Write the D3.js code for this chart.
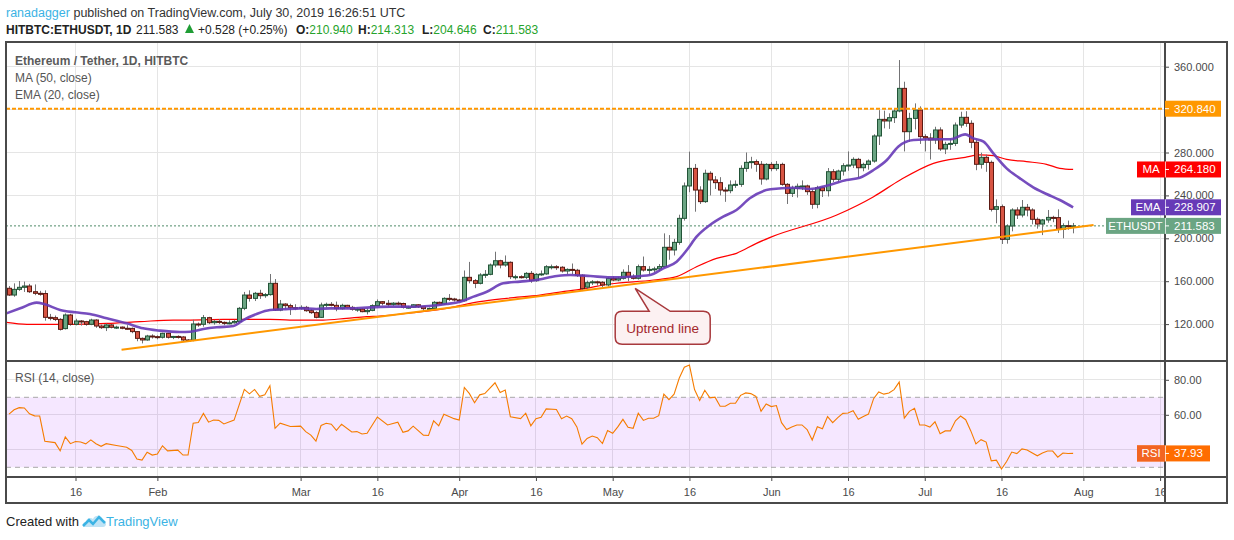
<!DOCTYPE html>
<html>
<head>
<meta charset="utf-8">
<script src="https://cdnjs.cloudflare.com/ajax/libs/d3/7.8.5/d3.min.js"></script>
<style>
  body { margin: 0; background: #fff; }
  svg { display: block; font-family: "Liberation Sans", Arial, sans-serif; }
</style>
</head>
<body>
<svg id="chart" width="1234" height="540"></svg>
<script>
// Daily HITBTC ETH/USDT candles, first candle is 2019-01-03 (one per day)
var startDay = "2019-01-03";

var opens = [
  153.4,147.1,152.4,154.3,155.5,150.2,148.7,148.5,126.3,126.0,
  124.4,115.8,128.5,119.8,122.9,122.3,119.8,123.8,118.2,116.7,
  119.2,117.0,117.2,116.1,116.0,113.0,106.7,105.2,108.9,108.3,
  107.7,111.4,107.7,108.5,108.0,105.2,105.0,120.1,119.8,126.0,
  121.3,122.5,121.6,120.8,121.2,122.5,134.7,147.1,144.0,148.7,
  146.5,147.5,158.0,133.1,138.7,137.2,135.3,134.8,135.6,132.5,
  130.7,126.3,137.8,138.4,137.5,134.4,137.5,135.6,133.8,134.0,
  131.6,132.8,137.2,140.9,139.4,138.4,139.5,139.2,135.6,135.8,
  138.0,136.2,134.4,134.6,140.3,138.7,144.0,143.4,142.5,141.8,
  163.6,160.5,158.0,165.8,166.4,175.1,179.1,175.1,177.6,164.2,
  164.2,163.6,167.3,160.5,166.4,166.8,173.5,173.5,173.0,169.5,
  171.0,170.2,165.5,154.5,158.6,159.4,159.0,156.5,162.6,161.1,
  162.7,168.3,164.2,162.7,173.6,170.4,171.0,171.5,173.6,191.6,
  189.1,196.2,218.6,248.8,265.2,245.0,234.2,260.6,254.4,251.9,
  245.0,244.4,249.7,250.3,265.2,270.8,271.5,269.0,255.3,268.9,
  265.0,268.9,250.3,241.9,246.6,248.5,248.8,243.5,231.7,247.2,
  244.4,262.1,255.0,262.7,267.7,268.3,273.6,265.8,268.9,272.0,
  295.4,310.9,309.4,312.5,318.7,339.8,299.4,311.8,319.6,294.8,
  293.5,291.7,301.0,283.3,287.6,288.5,305.6,312.8,307.2,289.5,
  269.0,275.5,270.8,227.0,229.5,199.0,211.5,226.4,221.7,228.9,
  226.4,217.7,213.3,217.1,219.5,219.3,208.4,211.8,210.94
];

var highs = [
  155.5,158.0,160.2,159.6,157.5,157.0,151.0,151.5,129.5,128.0,
  125.5,130.0,129.6,125.0,123.8,123.0,125.0,124.5,119.5,120.5,
  120.0,118.5,117.8,119.0,116.8,113.4,107.5,110.0,110.5,109.5,
  112.0,111.8,109.0,109.5,108.8,106.0,124.0,121.5,128.5,126.8,
  124.0,124.5,122.5,123.5,124.0,136.0,150.0,151.5,150.0,152.0,
  149.0,166.7,162.0,142.5,139.5,139.0,138.5,137.5,137.0,134.0,
  132.0,140.0,140.0,140.5,141.0,139.0,138.0,137.0,135.5,135.0,
  134.5,138.5,143.0,141.5,142.5,140.5,141.0,140.0,137.0,138.5,
  138.5,136.8,135.5,141.5,141.0,145.0,148.0,144.5,143.5,170.0,
  178.0,162.0,167.5,170.4,176.5,187.5,180.0,184.0,178.5,166.0,
  165.5,168.5,169.5,167.5,170.0,175.0,175.5,175.0,174.0,172.0,
  176.5,171.5,166.5,160.5,161.0,160.5,160.0,163.5,164.5,164.0,
  171.0,175.0,166.5,175.5,183.0,174.0,173.5,176.0,204.6,203.0,
  199.5,222.0,252.0,280.8,269.3,248.5,264.0,262.5,258.0,257.0,
  247.5,254.0,254.0,268.0,280.0,276.0,273.5,272.0,270.0,271.0,
  272.0,270.5,251.5,249.0,251.0,254.0,250.0,246.0,249.0,248.5,
  265.5,264.5,264.0,270.0,281.0,275.5,275.0,270.5,273.5,297.0,
  319.5,319.0,316.5,321.0,366.2,346.0,317.0,325.8,323.0,297.0,
  298.0,304.0,303.5,290.0,293.0,308.0,318.0,318.5,310.0,292.0,
  279.8,278.0,272.5,236.3,231.5,213.0,228.0,229.0,235.7,232.0,
  228.0,219.5,218.0,226.4,221.0,227.0,214.0,216.5,214.313
];

var lows = [
  146.2,145.5,151.0,150.0,149.0,147.0,146.5,123.2,123.5,122.8,
  114.0,115.0,118.5,118.8,118.6,118.5,119.0,116.5,115.5,113.5,
  116.0,115.5,115.2,115.0,111.5,104.0,102.0,104.5,106.5,105.8,
  106.5,106.5,106.0,106.5,104.0,103.5,104.0,117.5,117.6,120.0,
  119.5,120.0,119.0,119.8,120.5,121.5,133.0,141.0,141.5,143.5,
  144.5,146.5,132.2,132.0,134.0,128.5,133.0,133.5,131.5,129.5,
  125.4,125.8,135.5,136.5,132.0,133.5,134.5,132.5,131.5,131.0,
  129.0,132.0,136.5,137.5,136.5,137.0,137.5,134.5,134.5,135.0,
  135.0,132.0,132.8,134.0,137.5,137.8,141.5,141.0,140.5,141.0,
  158.0,153.5,157.0,163.0,165.5,173.0,172.0,173.5,162.0,161.5,
  162.5,162.0,158.5,159.5,165.0,166.0,171.0,170.5,168.0,166.5,
  166.5,164.0,150.8,152.5,156.5,156.0,154.5,155.0,160.0,160.0,
  161.5,160.0,161.5,161.5,169.0,166.0,168.5,169.5,172.5,180.0,
  184.0,194.0,216.5,243.0,224.8,232.0,233.0,240.0,246.0,240.0,
  234.0,242.0,247.0,248.0,262.0,265.0,262.0,250.0,254.0,262.5,
  263.0,249.0,232.0,238.5,238.0,245.0,240.5,227.5,228.0,238.5,
  239.0,252.5,252.0,258.5,263.0,265.5,256.5,262.5,264.0,270.5,
  287.0,302.5,302.0,307.5,317.5,281.0,290.0,301.5,288.0,281.0,
  273.5,288.0,281.5,278.5,282.5,286.0,303.0,304.0,284.0,263.5,
  265.0,262.0,225.0,214.0,194.7,195.0,206.5,218.0,219.5,220.5,
  213.0,209.0,203.0,214.5,215.0,205.0,200.0,208.0,204.646
];

var closes = [
  147.1,152.4,154.3,155.5,150.2,148.7,148.5,126.3,126.0,124.4,
  115.1,128.5,119.8,122.9,122.3,119.8,123.8,118.2,116.7,119.2,
  117.0,117.2,116.1,116.0,113.0,106.7,105.2,108.9,108.3,107.7,
  111.4,107.7,108.5,108.0,105.2,105.0,120.1,119.8,126.0,121.3,
  122.5,121.6,120.8,121.2,122.5,134.7,147.1,144.0,148.7,146.5,
  147.5,158.0,133.1,138.7,137.2,135.3,134.8,135.6,132.5,130.7,
  126.3,137.8,138.4,137.5,134.4,137.5,135.6,133.8,134.0,131.6,
  132.8,137.2,140.9,139.4,138.4,139.5,139.2,135.6,135.8,138.0,
  136.2,134.4,134.6,140.3,138.7,144.0,143.4,142.5,141.8,163.6,
  160.5,158.0,165.8,166.4,175.1,179.1,175.1,177.6,164.2,164.2,
  163.6,167.3,160.5,166.4,166.8,173.5,173.5,173.0,169.5,171.0,
  170.2,165.5,153.0,158.6,159.4,159.0,156.5,162.6,161.1,162.7,
  168.3,164.2,162.7,173.6,170.4,171.0,171.5,173.6,191.6,189.1,
  196.2,218.6,248.8,265.2,245.0,234.2,260.6,254.4,251.9,245.0,
  244.4,249.7,250.3,265.2,270.8,271.5,269.0,255.3,268.9,265.0,
  268.9,250.3,241.9,246.6,248.5,248.8,243.5,231.7,247.2,244.4,
  262.1,255.0,262.7,267.7,268.3,273.6,265.8,268.9,272.0,295.4,
  310.9,309.4,312.5,318.7,339.8,299.4,311.8,319.6,294.8,293.5,
  291.7,301.0,283.3,287.6,288.5,305.6,312.8,307.2,289.5,269.0,
  275.5,270.8,227.0,229.5,199.0,211.5,226.4,221.7,228.9,226.4,
  217.7,213.3,217.1,219.5,219.3,208.4,211.8,211.055,211.583
];

// Indicator lines: [days after startDay, value]
var ma50 = [
  [-0.5,121.6],[3.5,119.8],[11.3,119.8],[19.1,120.7],[25.6,122.3],[32.1,123.8],[35.4,123.8],
  [41.9,124.4],[51,124.4],[54.9,123.8],[61.4,123.8],[66,125.4],[69.9,126.9],[72.5,127.5],
  [79,130.6],[85.5,134.7],[92,140.9],[97.3,144.0],[103.8,147.1],[109,150.8],[111.6,152.4],
  [117.5,157.4],[126,161.1],[130.5,164.2],[134.4,173.5],[138.3,181.3],[142.2,186.0],
  [146.1,195.3],[148.8,200.9],[161.8,221.7],[169,238.8],[174.2,254.4],[180.7,269.9],
  [186.9,275.5],[189.8,277.7],[192.4,277.0],[195,273.6],[198.9,271.5],[202.8,269.0],
  [205.4,265.2],[208,264.18]
];

var ema20 = [
  [-0.5,130.0],[2.2,134.7],[5.4,140.0],[7,138.4],[10,133.2],[12.9,131.0],[15.8,129.4],
  [19.1,125.4],[23,120.7],[26.2,116.1],[29.5,113.9],[33.4,112.6],[35.4,112.9],[38,115.4],
  [40.6,117.0],[43.9,118.2],[45.8,123.8],[48.4,129.4],[51,133.1],[53.6,133.8],[56.9,134.7],
  [60.1,134.1],[62.7,134.7],[66.6,134.7],[70.6,135.6],[74.5,136.3],[79,136.2],[85.5,138.7],
  [88.2,140.9],[90.8,145.6],[93.4,150.2],[96.6,158.0],[99.9,159.6],[103.1,161.1],
  [107.1,164.8],[109.7,165.8],[113.6,164.8],[117.5,163.6],[121.4,164.2],[125.3,165.8],
  [127.9,172.0],[130.5,178.2],[132.5,189.1],[134.4,201.5],[137,212.4],[139.6,220.2],
  [142.2,226.4],[144.8,237.3],[148.8,245.7],[153.3,247.2],[156.6,246.0],[159.8,249.1],
  [163.7,254.4],[166.3,256.5],[169,263.7],[171.6,273.0],[173.8,285.4],[176.8,291.6],
  [180.7,292.3],[184,292.3],[186.9,296.9],[188.5,293.2],[190.5,290.1],[192.4,279.2],
  [195,265.2],[197.6,255.9],[200.2,247.5],[202.8,241.3],[205.4,235.7],[208,228.907]
];

var rsi14 = [
  [0,60.4],[1,62.9],[2,64.1],[3,63.9],[4,60.6],[5,59.4],[6,59.3],[7,44.9],[9,44.1],[10,39.4],
  [11,47.4],[12,43.5],[13,44.7],[14,44.5],[15,43.4],[16,45.7],[17,43.5],[18,42.0],[19,43.5],
  [21,42.5],[23,41.5],[24,39.6],[25,34.7],[26,34.1],[27,38.6],[28,37.0],[29,37.6],[30,42.3],
  [31,39.4],[33,39.8],[34,37.0],[35,37.0],[36,55.2],[37,55.6],[38,60.8],[39,55.8],[40,57.0],
  [41,56.8],[42,54.8],[44,57.0],[46,74.5],[47,72.0],[48,74.5],[49,70.6],[50,71.4],[51,76.6],
  [52,52.3],[53,55.2],[55,53.3],[57,53.5],[58,50.4],[59,48.4],[60,44.9],[61,53.9],[62,55.2],
  [63,54.6],[64,51.1],[65,54.6],[67,50.2],[68,50.4],[69,49.0],[70,49.4],[72,58.7],[74,54.2],
  [76,55.8],[77,50.0],[78,50.8],[79,53.5],[81,48.4],[82,48.2],[83,56.6],[84,53.7],[85,60.3],
  [87,57.8],[88,57.0],[89,75.6],[90,72.1],[91,66.9],[92,71.4],[93,72.1],[95,78.3],[96,72.7],
  [97,74.1],[98,58.9],[100,57.8],[101,60.9],[102,53.7],[103,57.8],[104,58.6],[105,63.4],
  [107,63.0],[108,57.8],[109,59.3],[110,57.8],[111,53.1],[112,43.2],[113,46.5],[114,47.9],
  [115,46.9],[116,43.6],[117,51.0],[118,49.4],[119,53.1],[120,57.4],[121,52.9],[122,52.3],
  [123,60.9],[124,56.8],[125,58.0],[126,58.0],[127,59.5],[128,71.8],[129,68.7],[130,71.8],
  [131,80.9],[132,87.2],[133,88.4],[134,74.4],[135,68.2],[136,74.0],[137,69.7],[138,70.1],
  [139,64.9],[140,64.9],[141,66.6],[142,66.6],[143,71.1],[144,72.5],[145,72.1],[146,70.5],
  [147,62.0],[148,66.2],[149,64.7],[150,65.3],[151,55.5],[152,51.6],[153,53.0],[154,54.2],
  [155,54.2],[156,51.6],[157,45.6],[158,53.2],[159,52.0],[160,59.0],[161,55.5],[162,58.4],
  [163,60.8],[164,61.0],[165,62.3],[166,57.4],[167,59.0],[168,60.4],[169,69.2],[170,73.1],
  [171,71.8],[172,72.5],[173,74.4],[174,78.7],[175,58.1],[176,62.0],[177,63.7],[178,54.2],
  [179,54.2],[180,53.0],[181,56.0],[182,49.2],[183,50.8],[184,50.8],[185,56.6],[186,59.3],
  [187,57.2],[188,50.8],[189,43.4],[190,45.8],[191,44.4],[192,33.7],[193,34.1],[194,29.0],
  [195,33.3],[196,38.7],[197,37.8],[198,40.5],[199,39.9],[201,36.6],[202,38.2],[203,39.3],
  [204,39.3],[205,35.8],[206,38.2],[207,37.9],[208,37.93]
];

// drawings
var trendLine = [[22, 96.1], [212, 212.3]];
var resistance = 320.84;
var callout = { text: "Uptrend line", day: 122.4, price: 153.4 };

// axes (labels hidden under the price tags are left out)
var timeTicks = ["2019-01-16","2019-02-01","2019-03-01","2019-03-16","2019-04-01","2019-04-16",
  "2019-05-01","2019-05-16","2019-06-01","2019-06-16","2019-07-01","2019-07-16","2019-08-01","2019-08-16"];
var priceTicks = [120, 160, 200, 240, 280, 320, 360];
var priceLabels = [120, 160, 200, 240, 280, 360];
var rsiTicks = [40, 60, 80];
var rsiLabels = [60, 80];

var upFill = "#6ba583", upLine = "#225437", downFill = "#d75442", downLine = "#5b1a13";
var greenText = "#26a32b";

var svg = d3.select("#chart");
var plotLeft = 6, plotRight = 1165, frameRight = 1227;
var mainTop = 42, mainBottom = 361, rsiBottom = 477, frameBottom = 503;

var parseDay = d3.utcParse("%Y-%m-%d");
var day0 = parseDay(startDay);
function dayDate(i) { return new Date(day0.getTime() + i * 864e5); }

var x = d3.scaleUtc().domain([day0, parseDay("2019-08-16")]).range([9, 1160.1]);
var y = d3.scaleLinear().domain([200, 360]).range([238.3, 66.7]);
var yRsi = d3.scaleLinear().domain([30, 70]).range([467.3, 397.3]);

var candles = closes.map(function(c, i) {
  return { date: dayDate(i), o: opens[i], h: highs[i], l: lows[i], c: c };
});

var defs = svg.append("defs");
defs.append("clipPath").attr("id", "clipMain").append("rect")
  .attr("x", plotLeft).attr("y", mainTop).attr("width", plotRight - plotLeft).attr("height", mainBottom - mainTop);
defs.append("clipPath").attr("id", "clipRsi").append("rect")
  .attr("x", plotLeft).attr("y", mainBottom).attr("width", plotRight - plotLeft).attr("height", rsiBottom - mainBottom);
defs.append("clipPath").attr("id", "clipTime").append("rect")
  .attr("x", 0).attr("y", rsiBottom).attr("width", plotRight).attr("height", 30);

// grid
var grid = svg.append("g").attr("stroke", "#e5e5e5").attr("stroke-width", 1).attr("shape-rendering", "crispEdges");
grid.selectAll(".vgrid")
  .data(timeTicks.map(parseDay))
  .enter()
  .append("line")
  .attr("x1", function(d) { return x(d); })
  .attr("x2", function(d) { return x(d); })
  .attr("y1", mainTop)
  .attr("y2", rsiBottom);
grid.selectAll(".hgrid")
  .data(priceTicks)
  .enter()
  .append("line")
  .attr("x1", plotLeft).attr("x2", plotRight)
  .attr("y1", function(d) { return y(d); })
  .attr("y2", function(d) { return y(d); });
grid.selectAll(".rgrid")
  .data(rsiTicks)
  .enter()
  .append("line")
  .attr("x1", plotLeft).attr("x2", plotRight)
  .attr("y1", function(d) { return yRsi(d); })
  .attr("y2", function(d) { return yRsi(d); });

// main pane
var main = svg.append("g").attr("clip-path", "url(#clipMain)");

main.append("line")
  .attr("x1", plotLeft).attr("x2", plotRight)
  .attr("y1", y(closes[closes.length - 1])).attr("y2", y(closes[closes.length - 1]))
  .attr("stroke", "#4f8a68").attr("stroke-width", 1).attr("stroke-dasharray", "2,2");

var maLine = d3.line()
  .x(function(d) { return x(dayDate(d[0])); })
  .y(function(d) { return y(d[1]); })
  .curve(d3.curveMonotoneX);

main.append("path").datum(ma50)
  .attr("d", maLine).attr("fill", "none").attr("stroke", "#ff0000").attr("stroke-width", 1.2);

var candle = main.selectAll(".candle")
  .data(candles)
  .enter()
  .append("g")
  .attr("class", "candle");

candle.append("line")
  .attr("x1", function(d) { return Math.round(x(d.date)) + 0.5; })
  .attr("x2", function(d) { return Math.round(x(d.date)) + 0.5; })
  .attr("y1", function(d) { return y(d.h); })
  .attr("y2", function(d) { return y(d.l); })
  .attr("stroke", "#737375")
  .attr("stroke-width", 1);

candle.append("rect")
  .attr("x", function(d) { return Math.round(x(d.date)) - 1.5; })
  .attr("width", 4)
  .attr("y", function(d) { return y(Math.max(d.o, d.c)); })
  .attr("height", function(d) { return Math.max(1, Math.abs(y(d.o) - y(d.c))); })
  .attr("fill", function(d) { return d.c >= d.o ? upFill : downFill; })
  .attr("stroke", function(d) { return d.c >= d.o ? upLine : downLine; })
  .attr("stroke-width", 1);

main.append("path").datum(ema20)
  .attr("d", maLine).attr("fill", "none").attr("stroke", "#673ab7").attr("stroke-width", 2.6)
  .attr("stroke-opacity", 0.9);

main.append("line")
  .attr("x1", x(dayDate(trendLine[0][0]))).attr("y1", y(trendLine[0][1]))
  .attr("x2", x(dayDate(trendLine[1][0]))).attr("y2", y(trendLine[1][1]))
  .attr("stroke", "#ff9800").attr("stroke-width", 2);

main.append("line")
  .attr("x1", plotLeft).attr("x2", plotRight)
  .attr("y1", y(resistance)).attr("y2", y(resistance))
  .attr("stroke", "#ff9800").attr("stroke-width", 2).attr("stroke-dasharray", "4,2");

// callout pointing at the trend line
var tipX = x(dayDate(callout.day)), tipY = y(callout.price);
var bx0 = tipX - 20, bx1 = tipX + 75, by0 = tipY + 23, by1 = tipY + 56, r = 7;
var box = d3.path();
box.moveTo(bx0 + r, by0);
box.lineTo(tipX + 14, by0);
box.lineTo(tipX, tipY);
box.lineTo(tipX + 35, by0);
box.lineTo(bx1 - r, by0);
box.quadraticCurveTo(bx1, by0, bx1, by0 + r);
box.lineTo(bx1, by1 - r);
box.quadraticCurveTo(bx1, by1, bx1 - r, by1);
box.lineTo(bx0 + r, by1);
box.quadraticCurveTo(bx0, by1, bx0, by1 - r);
box.lineTo(bx0, by0 + r);
box.quadraticCurveTo(bx0, by0, bx0 + r, by0);
box.closePath();
svg.append("path").attr("d", box.toString())
  .attr("fill", "#fcf1f2").attr("stroke", "#a8393d").attr("stroke-width", 1.5);
svg.append("text")
  .attr("x", (bx0 + bx1) / 2).attr("y", (by0 + by1) / 2 + 5)
  .attr("text-anchor", "middle").attr("font-size", 13.5).attr("fill", "#a3272c")
  .text(callout.text);

// rsi pane
var rsiPane = svg.append("g").attr("clip-path", "url(#clipRsi)");
rsiPane.append("rect")
  .attr("x", plotLeft).attr("width", plotRight - plotLeft)
  .attr("y", yRsi(70)).attr("height", yRsi(30) - yRsi(70))
  .attr("fill", "rgba(153,21,255,0.1)");
rsiPane.selectAll(".band")
  .data([70, 30])
  .enter()
  .append("line")
  .attr("x1", plotLeft).attr("x2", plotRight)
  .attr("y1", function(d) { return yRsi(d); })
  .attr("y2", function(d) { return yRsi(d); })
  .attr("stroke", "#a8a8a8").attr("stroke-dasharray", "5,4");
rsiPane.append("path").datum(rsi14)
  .attr("d", d3.line()
    .x(function(d) { return x(dayDate(d[0])); })
    .y(function(d) { return yRsi(d[1]); }))
  .attr("fill", "none").attr("stroke", "#f57c00").attr("stroke-width", 1.1);

// frame and separators
var frame = svg.append("g").attr("stroke", "#4a4a4a").attr("fill", "none").attr("shape-rendering", "crispEdges");
frame.append("rect").attr("x", plotLeft).attr("y", mainTop)
  .attr("width", frameRight - plotLeft).attr("height", frameBottom - mainTop).attr("stroke-width", 1.5);
frame.append("line").attr("x1", plotLeft).attr("x2", frameRight).attr("y1", mainBottom).attr("y2", mainBottom).attr("stroke-width", 1.5);
frame.append("line").attr("x1", plotLeft).attr("x2", frameRight).attr("y1", rsiBottom).attr("y2", rsiBottom).attr("stroke-width", 1.5);
frame.append("line").attr("x1", plotRight).attr("x2", plotRight).attr("y1", mainTop).attr("y2", frameBottom).attr("stroke-width", 1.5);

// axes
function styleAxis(g) {
  g.attr("font-family", "'Liberation Sans', Arial, sans-serif").attr("font-size", 11);
  g.select(".domain").remove();
  g.selectAll(".tick line").attr("stroke", "#4a4a4a");
  g.selectAll(".tick text").attr("fill", "#4a4a4a");
}

svg.append("g")
  .attr("transform", "translate(" + plotRight + ",0)")
  .call(d3.axisRight(y).tickValues(priceLabels).tickFormat(d3.format(".3f")).tickSize(4).tickPadding(5))
  .call(styleAxis);

svg.append("g")
  .attr("transform", "translate(" + plotRight + ",0)")
  .call(d3.axisRight(yRsi).tickValues(rsiLabels).tickFormat(d3.format(".2f")).tickSize(4).tickPadding(5))
  .call(styleAxis);

svg.append("g")
  .attr("clip-path", "url(#clipTime)")
  .append("g")
  .attr("transform", "translate(0," + rsiBottom + ")")
  .call(d3.axisBottom(x)
    .tickValues(timeTicks.map(parseDay))
    .tickFormat(function(d) { return d.getUTCDate() === 1 ? d3.utcFormat("%b")(d) : d3.utcFormat("%-d")(d); })
    .tickSize(4).tickPadding(7))
  .call(styleAxis);

// price tags on the right axis
var tags = [
  { name: null, value: resistance, y: y(resistance), color: "#ff9800", left: plotRight, right: 1221 },
  { name: "MA", value: ma50[ma50.length - 1][1], y: y(ma50[ma50.length - 1][1]), color: "#ff0000", left: 1137, right: 1221 },
  { name: "EMA", value: ema20[ema20.length - 1][1], y: y(ema20[ema20.length - 1][1]), color: "#673ab7", left: 1131, right: 1221 },
  { name: "ETHUSDT", value: closes[closes.length - 1], y: y(closes[closes.length - 1]), color: "#6ba583", left: 1106, right: 1221 },
  { name: "RSI", value: rsi14[rsi14.length - 1][1], y: yRsi(rsi14[rsi14.length - 1][1]), color: "#ff6d00", nameColor: "#f26522", left: 1137, right: 1210, digits: 2 }
];

var tag = svg.selectAll(".tag")
  .data(tags)
  .enter()
  .append("g")
  .attr("class", "tag");

tag.append("rect")
  .attr("x", function(d) { return d.left; })
  .attr("y", function(d) { return d.y - 8; })
  .attr("width", function(d) { return d.right - d.left; })
  .attr("height", 16)
  .attr("fill", function(d) { return d.color; });
tag.filter(function(d) { return d.nameColor; })
  .append("rect")
  .attr("x", function(d) { return d.left; })
  .attr("y", function(d) { return d.y - 8; })
  .attr("width", function(d) { return plotRight - d.left; })
  .attr("height", 16)
  .attr("fill", function(d) { return d.nameColor; });
tag.filter(function(d) { return d.name; })
  .append("line")
  .attr("x1", plotRight + 0.5).attr("x2", plotRight + 0.5)
  .attr("y1", function(d) { return d.y - 8; })
  .attr("y2", function(d) { return d.y + 8; })
  .attr("stroke", "#fff").attr("stroke-opacity", 0.7);
tag.append("line")
  .attr("x1", plotRight).attr("x2", plotRight + 4)
  .attr("y1", function(d) { return d.y; })
  .attr("y2", function(d) { return d.y; })
  .attr("stroke", "#fff");
tag.append("text")
  .attr("x", plotRight + 9)
  .attr("y", function(d) { return d.y + 4; })
  .attr("font-size", 11.5).attr("fill", "#fff")
  .text(function(d) { return d3.format(d.digits ? ".2f" : ".3f")(d.value); });
tag.filter(function(d) { return d.name; })
  .append("text")
  .attr("x", function(d) { return (d.left + plotRight) / 2; })
  .attr("y", function(d) { return d.y + 4; })
  .attr("text-anchor", "middle")
  .attr("font-size", 11.5).attr("fill", "#fff")
  .text(function(d) { return d.name; });

// legends inside the panes
var legend = svg.append("g").attr("font-size", 12).attr("fill", "#555");
legend.append("text").attr("x", 15).attr("y", 65).attr("font-weight", "bold").attr("fill", "#5a5a5a").text("Ethereum / Tether, 1D, HITBTC");
legend.append("text").attr("x", 15).attr("y", 82).text("MA (50, close)");
legend.append("text").attr("x", 15).attr("y", 99).text("EMA (20, close)");
legend.append("text").attr("x", 15).attr("y", 382).text("RSI (14, close)");

// header
var last = candles[candles.length - 1];
var change = last.c - closes[closes.length - 2];
var f3 = d3.format(".3f");

var head1 = svg.append("text").attr("x", 6).attr("y", 17).attr("font-size", 12.5).attr("fill", "#333");
head1.append("tspan").attr("fill", "#3bb3e4").text("ranadagger");
head1.append("tspan").text(" published on TradingView.com, July 30, 2019 16:26:51 UTC");

var head2 = svg.append("g").attr("font-size", 12).attr("fill", "#222");
head2.append("text").attr("x", 6).attr("y", 34).attr("font-weight", "bold").text("HITBTC:ETHUSDT, 1D");
head2.append("text").attr("x", 136).attr("y", 34).text(f3(last.c));
head2.append("path").attr("d", "M185,33L189.5,24L194,33Z").attr("fill", "#1f9d35");
head2.append("text").attr("x", 198).attr("y", 34)
  .text("+" + f3(change) + " (+" + d3.format(".2f")(change / closes[closes.length - 2] * 100) + "%)");
var ohlc = [["O:", last.o, 296], ["H:", last.h, 358], ["L:", last.l, 422], ["C:", last.c, 483]];
ohlc.forEach(function(d) {
  var t = head2.append("text").attr("x", d[2]).attr("y", 34);
  t.append("tspan").attr("font-weight", "bold").text(d[0]);
  t.append("tspan").attr("fill", greenText).text(f3(d[1]));
});

// footer
svg.append("text").attr("x", 6).attr("y", 526).attr("font-size", 13).attr("fill", "#222").text("Created with");
var logo = svg.append("g").attr("transform", "translate(82,513)");
logo.append("path")
  .attr("d", "M3,14 C0,14 0,9 4,9 C4,5 9,4 11,6 C13,1 21,2 21,8 C25,8 25,14 21,14 Z")
  .attr("fill", "#bfe3f5");
logo.append("polyline")
  .attr("points", "1,13 7,7 11,11 17,4 23,10")
  .attr("fill", "none").attr("stroke", "#3bb3e4").attr("stroke-width", 2.5);
svg.append("text").attr("x", 106).attr("y", 526).attr("font-size", 13).attr("fill", "#3bb3e4").text("TradingView");
</script>
</body>
</html>
